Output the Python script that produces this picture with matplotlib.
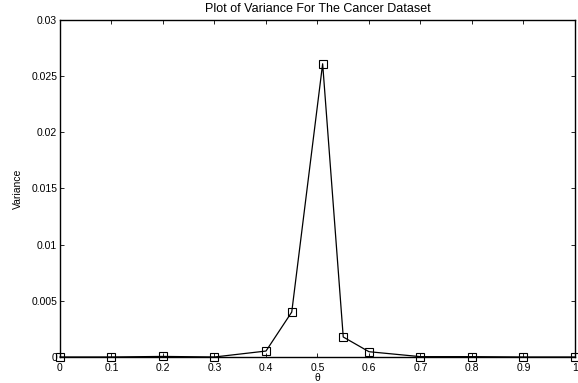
import numpy as np
from matplotlib import pyplot as plt

theta = [0, 0.1, 0.2, 0.3, 0.4, 0.45, 0.51, 0.55, 0.6, 0.7, 0.8, 0.9, 1.0]
variance = [0.0, 0.0, 0.00005, 0.0, 0.00053, 0.0040, 0.0261, 0.00178,
            0.00047, 0.00003, 0.00003, 0.0, 0.0]
xticks = [0, 0.1, 0.2, 0.3, 0.4, 0.5, 0.6, 0.7, 0.8, 0.9, 1]
xticklabels = ['0', '0.1', '0.2', '0.3', '0.4', '0.5', '0.6', '0.7', '0.8', '0.9', '1']
yticks = [0, 0.005, 0.01, 0.015, 0.02, 0.025, 0.03]
yticklabels = ['0', '0.005', '0.01', '0.015', '0.02', '0.025', '0.03']

plt.rcParams['font.family'] = ['Liberation Sans', 'DejaVu Sans']
plt.rcParams['font.size'] = 7.5

fig = plt.figure(figsize=(5.78, 3.83), dpi=100)
ax = fig.add_axes([0.1038, 0.0679, 0.891, 0.88])
ax.plot(theta, variance, color='black', lw=0.9, marker='s', markersize=5.5,
        markerfacecolor='none', markeredgecolor='black', markeredgewidth=0.8,
        clip_on=False)
ax.set_xlim(0, 1)
ax.set_ylim(0, 0.03)
ax.set_xticks(xticks)
ax.set_xticklabels(xticklabels)
ax.set_yticks(yticks)
ax.set_yticklabels(yticklabels)
ax.tick_params(direction='in', length=3, width=0.6, top=True, right=True, pad=2)
ax.tick_params(axis='x', pad=4)
for s in ax.spines.values():
    s.set_linewidth(1.0)
ax.set_xlabel('θ', labelpad=0)
ax.set_ylabel('Variance', labelpad=6)
ax.set_title('Plot of Variance For The Cancer Dataset', pad=6)
fig.savefig('out.png', dpi=100)
